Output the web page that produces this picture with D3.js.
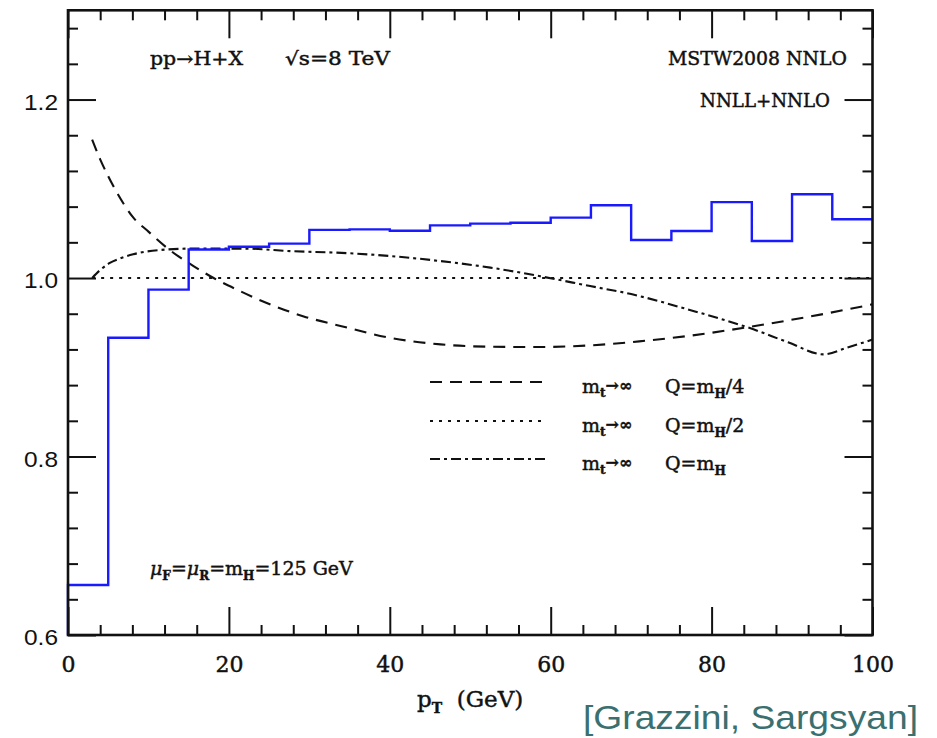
<!DOCTYPE html>
<html>
<head>
<meta charset="utf-8">
<script src="https://cdn.jsdelivr.net/npm/d3@7"></script>
<style>
  html, body { margin: 0; padding: 0; background: #fff; }
  svg { display: block; }
  .ser { stroke: #111; stroke-width: 0.45px; }
</style>
</head>
<body>
<svg id="chart" width="937" height="738"></svg>
<script>
// Resummed NNLL+NNLO ratio vs. Higgs transverse momentum (5 GeV bins)
const binEdges = [0, 5, 10, 15, 20, 25, 30, 35, 40, 45, 50, 55, 60, 65, 70, 75, 80, 85, 90, 95, 100];
const binRatio = [0.656, 0.933, 0.987, 1.032, 1.035, 1.0385, 1.054, 1.0545, 1.053, 1.059,
                  1.061, 1.062, 1.0677, 1.0815, 1.0426, 1.0527, 1.085, 1.0415, 1.0938, 1.0658];

// m_t -> infinity curves for three resummation scales
const ptQuarter = [3, 4, 5, 6, 7, 8, 10, 12.7, 15.6, 18.1, 21, 24.7, 29.3, 34, 40, 46.3, 52.5, 58.7, 65, 71, 77, 85.2, 93.5, 100];
const valQuarter = [1.155, 1.133, 1.114, 1.097, 1.082, 1.069, 1.052, 1.031, 1.0134, 1.0, 0.987, 0.972, 0.957, 0.946,
                    0.933, 0.9257, 0.923, 0.9227, 0.9246, 0.929, 0.935, 0.946, 0.959, 0.9705];

const ptHalf = [3, 100];
const valHalf = [1.0, 1.0];

const ptFull = [3, 4, 5.2, 6.5, 8.1, 11.4, 15.6, 21.8, 28, 34, 40, 46.3, 52.5, 58.7, 64.9, 70, 77, 85.2, 89.5, 93.9, 97, 100];
const valFull = [1.0, 1.009, 1.017, 1.022, 1.0266, 1.0314, 1.033, 1.033, 1.030, 1.0282, 1.0247, 1.019, 1.0117,
                 1.002, 0.991, 0.982, 0.965, 0.9425, 0.928, 0.9145, 0.9225, 0.931];

const xMajor = [0, 20, 40, 60, 80, 100];
const xMinor = d3.range(4, 100, 4).filter(v => v % 20 !== 0);
const yMajor = [0.6, 0.8, 1.0, 1.2];
const yMinor = [0.64, 0.68, 0.72, 0.76, 0.84, 0.88, 0.92, 0.96, 1.04, 1.08, 1.12, 1.16, 1.24, 1.28];
const yLabels = ["0.6", "0.8", "1.0", "1.2"];

const legendItems = [
  { label: "m_H/4", dash: "12,8" },
  { label: "m_H/2", dash: "3,6" },
  { label: "m_H", dash: "10,4,3,4" }
];

const svg = d3.select("#chart");
const L = 68, R = 872.5, T = 10.3, B = 635;
const x = d3.scaleLinear().domain([0, 100]).range([L, R]);
const y = d3.scaleLinear().domain([0.6, 1.3]).range([B, T]);

const serif = "'DejaVu Serif', serif";
const sans = "'Liberation Sans', Arial, sans-serif";

// ---- ticks on all four sides, pointing inward ----
function styleTicks(g) {
  g.select(".domain").remove();
  g.selectAll(".tick line").attr("stroke", "#111").attr("stroke-width", 2);
  g.selectAll(".tick text").remove();
}
svg.append("g").attr("transform", `translate(0,${B})`)
  .call(d3.axisBottom(x).tickValues(xMajor).tickSize(-28)).call(styleTicks);
svg.append("g").attr("transform", `translate(0,${B})`)
  .call(d3.axisBottom(x).tickValues(xMinor).tickSize(-10)).call(styleTicks);
svg.append("g").attr("transform", `translate(0,${T})`)
  .call(d3.axisTop(x).tickValues(xMajor).tickSize(-28)).call(styleTicks);
svg.append("g").attr("transform", `translate(0,${T})`)
  .call(d3.axisTop(x).tickValues(xMinor).tickSize(-10)).call(styleTicks);
svg.append("g").attr("transform", `translate(${L},0)`)
  .call(d3.axisLeft(y).tickValues(yMajor).tickSize(-28)).call(styleTicks);
svg.append("g").attr("transform", `translate(${L},0)`)
  .call(d3.axisLeft(y).tickValues(yMinor).tickSize(-10)).call(styleTicks);
svg.append("g").attr("transform", `translate(${R},0)`)
  .call(d3.axisRight(y).tickValues(yMajor).tickSize(-28)).call(styleTicks);
svg.append("g").attr("transform", `translate(${R},0)`)
  .call(d3.axisRight(y).tickValues(yMinor).tickSize(-10)).call(styleTicks);

// ---- tick labels ----
const xLab = svg.append("g").attr("transform", `translate(0,${B})`)
  .call(d3.axisBottom(x).tickValues(xMajor).tickSize(0).tickFormat(d3.format("d")));
xLab.select(".domain").remove();
xLab.selectAll(".tick text")
  .attr("y", 37).attr("dy", 0).attr("class", "ser")
  .attr("font-family", serif).attr("font-size", 22).attr("fill", "#111");

const yLab = svg.append("g").attr("transform", `translate(${L},0)`)
  .call(d3.axisLeft(y).tickValues(yMajor).tickSize(0).tickFormat((d, i) => yLabels[i]));
yLab.select(".domain").remove();
yLab.selectAll(".tick text")
  .attr("x", -10).attr("dy", 9.5)
  .attr("font-family", sans).attr("font-size", 22).attr("fill", "#111")
  .attr("textLength", 34).attr("lengthAdjust", "spacingAndGlyphs");

// ---- curves ----
const curveLine = d3.line().x(d => x(d[0])).y(d => y(d[1])).curve(d3.curveMonotoneX);
function drawCurve(pts, vals, dash) {
  svg.append("path")
    .datum(pts.map((p, i) => [p, vals[i]]))
    .attr("d", curveLine)
    .attr("fill", "none").attr("stroke", "#111").attr("stroke-width", 2.1)
    .attr("stroke-dasharray", dash);
}
drawCurve(ptHalf, valHalf, legendItems[1].dash);
drawCurve(ptQuarter, valQuarter, legendItems[0].dash);
drawCurve(ptFull, valFull, legendItems[2].dash);

// ---- histogram ----
const stepPts = [[binEdges[0], 0.6]]
  .concat(binRatio.map((v, i) => [binEdges[i], v]))
  .concat([[binEdges[binEdges.length - 1], binRatio[binRatio.length - 1]]]);
svg.append("path")
  .datum(stepPts)
  .attr("d", d3.line().x(d => x(d[0])).y(d => y(d[1])).curve(d3.curveStepAfter))
  .attr("fill", "none").attr("stroke", "#1a1aff").attr("stroke-width", 2.4);

// ---- frame ----
svg.append("rect")
  .attr("x", L).attr("y", T).attr("width", R - L).attr("height", B - T)
  .attr("fill", "none").attr("stroke", "#111").attr("stroke-width", 2.6);

// ---- annotations ----
function txt(xp, yp, s, size, anchor) {
  return svg.append("text").attr("x", xp).attr("y", yp).attr("class", "ser")
    .attr("font-family", serif).attr("font-size", size).attr("fill", "#111")
    .attr("text-anchor", anchor || "start").text(s);
}
txt(150, 65, "pp→H+X", 18.5).attr("textLength", 93).attr("lengthAdjust", "spacingAndGlyphs");
txt(285, 65, "√s=8 TeV", 18.5).attr("textLength", 105).attr("lengthAdjust", "spacingAndGlyphs");
txt(847, 65, "MSTW2008 NNLO", 18.5, "end").attr("textLength", 179).attr("lengthAdjust", "spacingAndGlyphs");
txt(830, 107, "NNLL+NNLO", 18.5, "end").attr("textLength", 130).attr("lengthAdjust", "spacingAndGlyphs");

// scale choice text
const mu = svg.append("text").attr("x", 150).attr("y", 575).attr("class", "ser")
  .attr("font-family", serif).attr("font-size", 19).attr("fill", "#111");
mu.append("tspan").attr("font-style", "italic").text("μ");
mu.append("tspan").attr("font-size", 12).attr("font-weight", "bold").attr("dy", 5).text("F");
mu.append("tspan").attr("dy", -5).text("=");
mu.append("tspan").attr("font-style", "italic").text("μ");
mu.append("tspan").attr("font-size", 12).attr("font-weight", "bold").attr("dy", 5).text("R");
mu.append("tspan").attr("dy", -5).text("=m");
mu.append("tspan").attr("font-size", 12).attr("font-weight", "bold").attr("dy", 5).text("H");
mu.append("tspan").attr("dy", -5).text("=125 GeV");

// ---- legend ----
const legY = [393, 432, 470];
legendItems.forEach((it, i) => {
  const by = legY[i];
  svg.append("line")
    .attr("x1", 430).attr("x2", 546).attr("y1", by - 11).attr("y2", by - 11)
    .attr("stroke", "#111").attr("stroke-width", 2).attr("stroke-dasharray", it.dash);
  const a = svg.append("text").attr("x", 582).attr("y", by).attr("class", "ser")
    .attr("font-family", serif).attr("font-size", 19).attr("fill", "#111");
  a.append("tspan").text("m");
  a.append("tspan").attr("font-size", 12).attr("font-weight", "bold").attr("dy", 4).text("t");
  a.append("tspan").attr("font-size", 16).attr("font-weight", "bold").attr("dy", -6).text("→∞");
  const q = svg.append("text").attr("x", 665).attr("y", by).attr("class", "ser")
    .attr("font-family", serif).attr("font-size", 19).attr("fill", "#111");
  const parts = it.label.split("_");
  q.append("tspan").text("Q=" + parts[0]);
  const rest = parts[1];
  q.append("tspan").attr("font-size", 12).attr("font-weight", "bold").attr("dy", 5).text(rest[0]);
  if (rest.length > 1) q.append("tspan").attr("dy", -5).text(rest.slice(1));
});

// ---- axis title ----
const xt = svg.append("text").attr("x", 417).attr("y", 707).attr("class", "ser")
  .attr("font-family", serif).attr("font-size", 23).attr("fill", "#111")
  .attr("xml:space", "preserve");
xt.append("tspan").text("p");
xt.append("tspan").attr("font-size", 14).attr("font-weight", "bold").attr("dy", 6).text("T");
xt.append("tspan").attr("dy", -6).text("  (GeV)");

// ---- attribution ----
svg.append("text").attr("x", 583).attr("y", 729)
  .attr("font-family", sans).attr("font-size", 33.5).attr("fill", "#3a7070")
  .attr("textLength", 335).attr("lengthAdjust", "spacingAndGlyphs")
  .text("[Grazzini, Sargsyan]");
</script>
</body>
</html>
